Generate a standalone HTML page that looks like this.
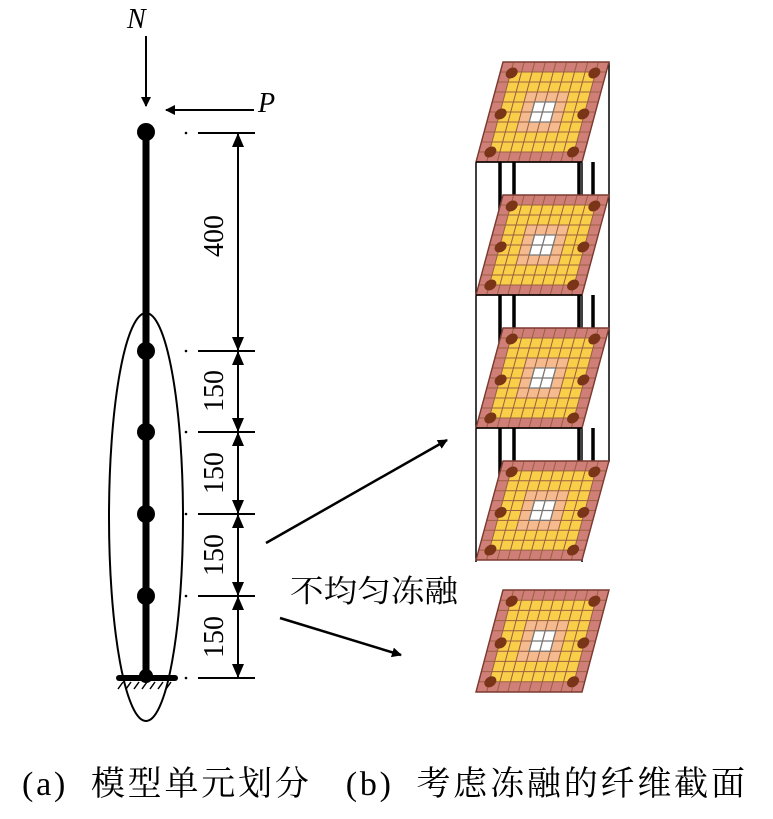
<!DOCTYPE html>
<html><head><meta charset="utf-8"><style>body{margin:0;background:#fff}svg{display:block}</style></head><body>
<svg width="773" height="819" viewBox="0 0 773 819" xmlns="http://www.w3.org/2000/svg">
<defs>
<g id="pan">
 <rect x="0" y="0" width="10" height="10" fill="#cf7f78"/>
 <rect x="1" y="1" width="8" height="8" fill="#f9cf4a"/>
 <rect x="3" y="3" width="4" height="4" fill="#f5bb8f"/>
 <rect x="4" y="4" width="2" height="2" fill="#fff"/>
 <g stroke="#9a6040" stroke-width="0.1" fill="none">
  <path d="M1 0V10M2 0V10M3 0V10M4 0V10M5 0V10M6 0V10M7 0V10M8 0V10M9 0V10M0 1H10M0 2H10M0 3H10M0 4H10M0 5H10M0 6H10M0 7H10M0 8H10M0 9H10"/>
 </g>
 <path d="M4 4h2v2h-2zM5 4v2M4 5h2" stroke="#777" stroke-width="0.12" fill="none"/>
 <rect x="0" y="0" width="10" height="10" fill="none" stroke="#7a3a30" stroke-width="0.14"/>
 <g fill="#7a3418">
  <circle cx="1.1" cy="1.1" r="0.55"/><circle cx="8.9" cy="1.1" r="0.55"/>
  <circle cx="1.1" cy="5.2" r="0.55"/><circle cx="8.9" cy="5.2" r="0.55"/>
  <circle cx="1.1" cy="9" r="0.55"/><circle cx="8.9" cy="9" r="0.55"/>
 </g>
</g>
<marker id="ar" markerWidth="10" markerHeight="10" refX="9" refY="5" orient="auto" markerUnits="userSpaceOnUse"><path d="M0 0L10 5L0 10z" fill="#000"/></marker>
<marker id="dm" markerWidth="14" markerHeight="20" refX="14" refY="6" orient="auto-start-reverse" markerUnits="userSpaceOnUse"><path d="M0 0L14 6L0 12z" fill="#000"/></marker>
</defs>

<g stroke="#000" stroke-width="1.5">
 <line x1="476" y1="162" x2="476" y2="562"/>
 <line x1="582" y1="162" x2="582" y2="562"/>
 <line x1="609" y1="62" x2="609" y2="462"/>
</g>
<g transform="translate(503,62) matrix(10.6,0,-2.7,10,0,0)"><use href="#pan"/></g>
<g stroke="#000" stroke-width="3.5">
 <line x1="514" y1="162" x2="514" y2="208"/><line x1="500" y1="162" x2="500" y2="248"/>
 <line x1="579" y1="162" x2="579" y2="248"/><line x1="593" y1="162" x2="593" y2="208"/>
</g>
<g transform="translate(503,195) matrix(10.6,0,-2.7,10,0,0)"><use href="#pan"/></g>
<g stroke="#000" stroke-width="3.5">
 <line x1="514" y1="295" x2="514" y2="340"/><line x1="500" y1="295" x2="500" y2="380"/>
 <line x1="579" y1="295" x2="579" y2="380"/><line x1="593" y1="295" x2="593" y2="340"/>
</g>
<g transform="translate(503,328) matrix(10.6,0,-2.7,10,0,0)"><use href="#pan"/></g>
<g stroke="#000" stroke-width="3.5">
 <line x1="514" y1="428" x2="514" y2="472"/><line x1="500" y1="428" x2="500" y2="512"/>
 <line x1="579" y1="428" x2="579" y2="512"/><line x1="593" y1="428" x2="593" y2="472"/>
</g>
<g transform="translate(503,461) matrix(10.6,0,-2.7,9.9,0,0)"><use href="#pan"/></g>
<g transform="translate(503,590) matrix(10.6,0,-2.7,10.2,0,0)"><use href="#pan"/></g>
<g stroke="#000" stroke-width="1.5">
 <line x1="476" y1="162" x2="582" y2="162"/><line x1="476" y1="295" x2="582" y2="295"/>
 <line x1="476" y1="428" x2="582" y2="428"/>
</g>

<ellipse cx="146" cy="517" rx="37" ry="204" fill="none" stroke="#000" stroke-width="2"/>
<line x1="146" y1="132" x2="146" y2="678" stroke="#000" stroke-width="7"/>
<g fill="#000">
 <circle cx="146" cy="132" r="9"/><circle cx="146" cy="351" r="9"/><circle cx="146" cy="432" r="9"/>
 <circle cx="146" cy="514" r="9"/><circle cx="146" cy="596" r="9"/><circle cx="146" cy="676" r="7"/>
</g>
<line x1="119" y1="678" x2="175" y2="678" stroke="#000" stroke-width="6" stroke-linecap="round"/>
<g stroke="#000" stroke-width="1.5">
 <path d="M123 682l-5 7M131 682l-5 7M139 682l-5 7M147 682l-5 7M155 682l-5 7M163 682l-5 7M171 682l-5 7"/>
</g>

<text x="127" y="28" font-family="Liberation Serif" font-style="italic" font-size="28">N</text>
<line x1="146" y1="36" x2="146" y2="106" stroke="#000" stroke-width="2" marker-end="url(#ar)"/>
<text x="258" y="112" font-family="Liberation Serif" font-style="italic" font-size="28">P</text>
<line x1="254" y1="110" x2="166" y2="110" stroke="#000" stroke-width="2" marker-end="url(#ar)"/>

<g fill="#000"><circle cx="186" cy="133" r="1.3"/><circle cx="186" cy="351" r="1.3"/><circle cx="186" cy="432" r="1.3"/><circle cx="186" cy="514" r="1.3"/><circle cx="186" cy="596" r="1.3"/><circle cx="186" cy="678" r="1.3"/></g>
<g stroke="#000" stroke-width="2">
 <path d="M198 133H255M198 351H255M198 432H255M198 514H255M198 596H255M198 678H255"/>
 <line x1="238" y1="133" x2="238" y2="351" marker-start="url(#dm)" marker-end="url(#dm)"/>
 <line x1="238" y1="351" x2="238" y2="432" marker-start="url(#dm)" marker-end="url(#dm)"/>
 <line x1="238" y1="432" x2="238" y2="514" marker-start="url(#dm)" marker-end="url(#dm)"/>
 <line x1="238" y1="514" x2="238" y2="596" marker-start="url(#dm)" marker-end="url(#dm)"/>
 <line x1="238" y1="596" x2="238" y2="678" marker-start="url(#dm)" marker-end="url(#dm)"/>
</g>
<g font-family="Liberation Serif" font-size="28" text-anchor="middle">
 <text transform="translate(223,236) rotate(-90)">400</text>
 <text transform="translate(223,391) rotate(-90)">150</text>
 <text transform="translate(223,473) rotate(-90)">150</text>
 <text transform="translate(223,555) rotate(-90)">150</text>
 <text transform="translate(223,637) rotate(-90)">150</text>
</g>

<line x1="266" y1="543" x2="447" y2="440" stroke="#000" stroke-width="2.5" marker-end="url(#ar)"/>
<line x1="280" y1="618" x2="401" y2="655" stroke="#000" stroke-width="2.5" marker-end="url(#ar)"/>
<text x="290" y="602" font-family="'Liberation Serif','Noto Serif CJK SC',serif" font-size="31" textLength="168" lengthAdjust="spacingAndGlyphs">不均匀冻融</text>

<text x="22" y="795" font-family="'Liberation Serif','Noto Serif CJK SC',serif" font-size="34" xml:space="preserve" textLength="723" lengthAdjust="spacing">(a)  模型单元划分   (b)  考虑冻融的纤维截面</text>
</svg>
</body></html>
